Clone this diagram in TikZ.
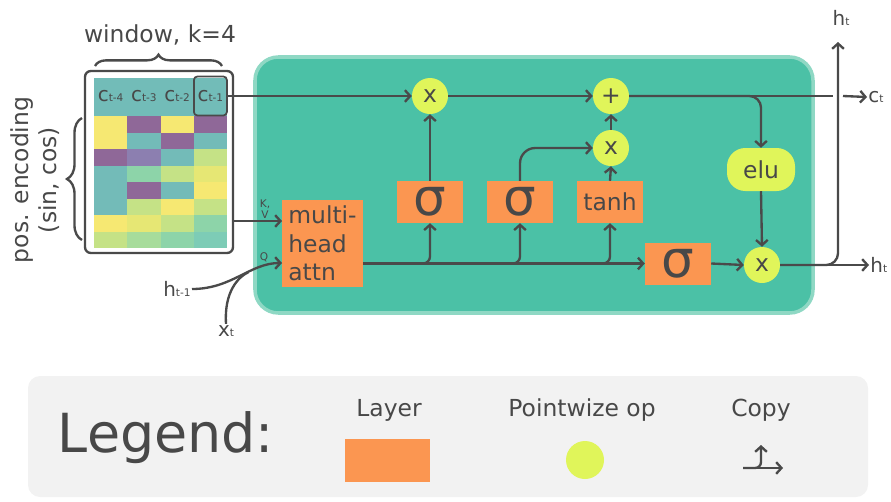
\documentclass[tikz,border=0pt]{standalone}
\usepackage{fontspec}
\setmainfont{DejaVu Sans}
\usetikzlibrary{arrows.meta, positioning, decorations.pathreplacing}
\definecolor{textgray}{HTML}{484848}
\definecolor{linegray}{HTML}{4A4A4A}
\definecolor{cellteal}{HTML}{4BC1A6}
\definecolor{boxglow}{HTML}{8FD8C4}
\definecolor{layerorange}{HTML}{FB9651}
\definecolor{opyellow}{HTML}{E0F55A}
\definecolor{legendbg}{HTML}{F2F2F2}
\definecolor{hdteal}{HTML}{72BCB8}
\definecolor{mxy}{HTML}{F6E872}
\definecolor{mxyg}{HTML}{E6E774}
\definecolor{mxp}{HTML}{8F6898}
\definecolor{mxl}{HTML}{8C7FB0}
\definecolor{mxt}{HTML}{73BBB8}
\definecolor{mxg}{HTML}{C5E286}
\definecolor{mxgm}{HTML}{A7DC9B}
\definecolor{mxm}{HTML}{8DD4A9}
\definecolor{mxmt}{HTML}{7DCCB6}
\newcommand{\lowtxt}[1]{\raisebox{-0.5pt}{\fontsize{9}{9}\selectfont #1}}

\begin{document}
\begin{tikzpicture}[x=0.03cm, y=-0.03cm,
		every node/.style={text=textgray, font=\fontsize{20}{24.5}\selectfont},
		layer/.style={fill=layerorange, minimum width=1.98cm,
			minimum height=1.26cm, inner sep=0pt},
		sigma/.style={layer, font=\fontsize{44}{48}\selectfont},
		pwop/.style={circle, fill=opyellow, minimum size=1.08cm, inner sep=0pt},
		conn/.style={line width=2pt, draw=linegray},
		arr/.style={conn, -{Straight Barb[length=4.5pt, width=10pt]}},
		lbl/.style={font=\fontsize{17}{17}\selectfont, inner sep=1pt},
		smalltxt/.style={font=\fontsize{9}{9.5}\selectfont, align=center, inner sep=0pt},
		clbl/.style={font=\fontsize{17}{17}\selectfont, inner sep=0pt},
		cellbox/.style={draw=linegray, line width=1.5pt, rounded corners=3pt,
			minimum width=0.99cm, minimum height=1.17cm},
		brc/.style={line width=2pt, draw=linegray, decorate},
		]
		\useasboundingbox (0,0) rectangle (891,501);

		% LSTM cell
		\draw[line width=3pt, draw=boxglow, fill=cellteal, rounded corners=0.7cm]
		(255,57) rectangle (813,313);

		% Window of past cell states
		\node[draw=linegray, line width=2pt, fill=white, rounded corners=5pt,
			minimum width=4.44cm, minimum height=5.46cm] (frame) at (159,162) {};
		\fill[hdteal] (94,78) rectangle (227,116);
		\foreach \cols [count=\i] in {{mxy,mxp,mxy,mxp},{mxy,mxt,mxp,mxt},
				{mxp,mxl,mxt,mxg},{mxt,mxm,mxg,mxyg},{mxt,mxp,mxt,mxy},
				{mxt,mxg,mxy,mxg},{mxy,mxyg,mxg,mxm},{mxg,mxgm,mxm,mxmt}} {
			\foreach \c [count=\j] in \cols {
				\fill[\c] ({94+33.25*(\j-1)},{116+16.5*(\i-1)}) rectangle ++(33.25,16.5);
			}
		}
		\foreach \k/\x in {4/110.6, 3/143.9, 2/177.1} {
			\node[clbl] (c\k) at (\x,96) {c\lowtxt{t-\k}};
		}
		\node[clbl, cellbox] (cprev) at (210.4,96) {c\lowtxt{t-1}};

		% Braces
		\draw[brc, decoration={brace, amplitude=0.34cm}] (95,66) -- (222,66);
		\node (win) at (160,35) {window, k=4};
		\draw[brc, decoration={brace, amplitude=0.45cm}] (82,240) -- (82,118);
		\node[rotate=90, align=center] (pos) at (35,180) {pos. encoding\\(sin, cos)};

		% Gates
		\node[pwop] (mul1) at (430,96) {x};
		\node[pwop] (add) at (611,96) {+};
		\node[pwop] (mul2) at (611,148) {x};
		\node[sigma] (sig1) at (430,202) {σ};
		\node[sigma] (sig2) at (520,202) {σ};
		\node[layer] (tanh) at (610,202) {tanh};
		\node[sigma] (sig3) at (678,263.5) {σ};
		\node[pwop] (mul3) at (762,265) {x};
		\node[fill=opyellow, rounded corners=0.55cm, minimum width=2.04cm,
			minimum height=1.29cm, inner sep=0pt] (elu) at (761,169.5) {elu};
		\node[layer, minimum width=2.43cm, minimum height=2.61cm,
			align=left] (attn) at (322.5,243.5) {multi-\\head\\attn};

		% Inputs and outputs
		\node[lbl, anchor=east] (hprev) at (192,289) {h\lowtxt{t-1}};
		\node[lbl] (xt) at (226,331) {x\lowtxt{t}};
		\node[lbl] (htop) at (841,18) {h\lowtxt{t}};
		\node[lbl, anchor=west] (ctout) at (867,97) {c\lowtxt{t}};
		\node[lbl, anchor=west] (hout) at (869,265) {h\lowtxt{t}};
		\node[smalltxt] (kv) at (265,209) {K,\\V};
		\node[smalltxt] (q) at (264,257) {Q};
		\coordinate (kvin) at (282,221);
		\coordinate (qin) at (282,263);
		\coordinate (cgapl) at (833,96);
		\coordinate (cgapr) at (843,96);
		\coordinate (hup) at (838,42);

		% Arrows
		\draw[arr] (cprev.east) -- (mul1.west);
		\draw[arr] (frame.east |- kvin) -- (kvin);
		\draw[arr] (hprev.east) .. controls (232,289) and (250,263) .. (qin);
		\draw[conn] (xt.north) .. controls (224,292) and (238,277) .. (248.5,272.1);
		\draw[arr] (attn.east |- sig3.west) -- (sig3.west);
		\draw[arr, rounded corners=6pt] (attn.east |- sig3.west) -| (sig1.south);
		\draw[arr, rounded corners=6pt] (attn.east |- sig3.west) -| (sig2.south);
		\draw[arr, rounded corners=6pt] (attn.east |- sig3.west) -| (tanh.south);
		\draw[arr] (sig1.north) -- (mul1.south);
		\draw[arr, rounded corners=13pt] (sig2.north) |- (mul2.west);
		\draw[arr] (tanh.north) -- (mul2.south);
		\draw[arr] (mul2.north) -- (add.south);
		\draw[arr] (mul1.east) -- (add.west);
		\draw[conn] (add.east) -- (cgapl);
		\draw[arr] (cgapr) -- (ctout.west);
		\draw[arr, rounded corners=10pt] (add.east) -| (elu.north);
		\draw[arr] (elu.south) -- (mul3.north);
		\draw[arr] (sig3.east) -- (mul3.west);
		\draw[arr] (mul3.east) -- (hout.west);
		\draw[arr, rounded corners=10pt] (mul3.east) -| (hup);

		% Legend
		\fill[legendbg, rounded corners=0.36cm] (28,376) rectangle (868,497);
		\node[font=\fontsize{46}{46}\selectfont] (legtitle) at (166,438) {Legend:};
		\node (laylbl) at (389,410) {Layer};
		\node[layer, minimum width=2.55cm, minimum height=1.29cm] (laybox) at (387.5,460.5) {};
		\node (oplbl) at (582,410) {Pointwize op};
		\node[pwop, minimum size=1.14cm] (opdot) at (585,460) {};
		\node (cpylbl) at (761,410) {Copy};
		\coordinate (cpy) at (743,468);
		\draw[arr] (cpy) -- ++(40,0);
		\draw[arr, rounded corners=5pt] (cpy) -| ++(18,-23);
	\end{tikzpicture}
\end{document}
